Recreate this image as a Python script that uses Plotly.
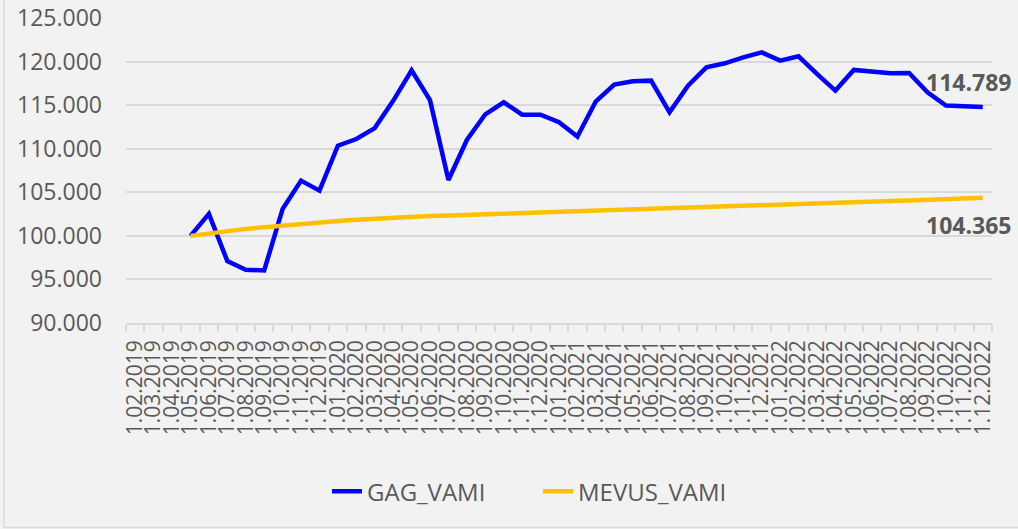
import plotly.graph_objects as go

months = ["02","03","04","05","06","07","08","09","10","11","12"]
categories = [f"1.{m}.2019" for m in months] + \
    [f"1.{m:02d}.{y}" for y in (2020, 2021, 2022) for m in range(1, 13)]

gag_vami = [None, None, None,
    100.0, 102.52, 97.1, 96.11, 96.03, 103.09, 106.34, 105.19, 110.34, 111.11, 112.37,
    115.5, 119.0, 115.57, 106.41, 111.0, 113.95, 115.33, 113.91, 113.91, 113.04, 111.39,
    115.44, 117.35, 117.74, 117.81, 114.18, 117.24, 119.34, 119.8, 120.49, 121.06,
    120.11, 120.6, 118.58, 116.67, 119.04, 118.88, 118.65, 118.69, 116.48, 114.95,
    114.87, 114.789]

mevus_vami = [None, None, None,
    100.0, 100.3, 100.55, 100.8, 101.0, 101.2, 101.4, 101.55, 101.7, 101.85, 101.98,
    102.08, 102.18, 102.27, 102.35, 102.42, 102.48, 102.62, 102.68, 102.73, 102.79,
    102.87, 102.95, 103.03, 103.1, 103.17, 103.24, 103.32, 103.4, 103.48, 103.55,
    103.62, 103.68, 103.74, 103.8, 103.85, 103.9, 103.95, 104.0, 104.05, 104.12,
    104.2, 104.28, 104.365]

y_ticks = [90, 95, 100, 105, 110, 115, 120, 125]
y_tick_labels = [f"{v:.3f}" for v in y_ticks]

grey_text = "#595959"
font_family = "Open Sans"

fig = go.Figure()
fig.add_trace(go.Scatter(x=categories, y=gag_vami, mode="lines", name="GAG_VAMI",
                         line=dict(color="#0000ff", width=4.5), connectgaps=False))
fig.add_trace(go.Scatter(x=categories, y=mevus_vami, mode="lines", name="MEVUS_VAMI",
                         line=dict(color="#ffc000", width=4.5), connectgaps=False))

fig.add_annotation(x=categories[-1], y=gag_vami[-1], xref="x", yref="y",
                   text=f"<b>{gag_vami[-1]:.3f}</b>", showarrow=False,
                   xshift=-14, yshift=25, font=dict(size=23, color=grey_text, family=font_family))
fig.add_annotation(x=categories[-1], y=mevus_vami[-1], xref="x", yref="y",
                   text=f"<b>{mevus_vami[-1]:.3f}</b>", showarrow=False,
                   xshift=-14, yshift=-27, font=dict(size=23, color=grey_text, family=font_family))

# outer chart border (left and bottom visible)
fig.add_shape(type="line", xref="paper", yref="paper",
              x0=(4 - 126) / 866, x1=(4 - 126) / 866, y0=(323 - 527.5) / 305, y1=1.2,
              line=dict(color="#d9d9d9", width=1.5))
fig.add_shape(type="line", xref="paper", yref="paper",
              x0=(4 - 126) / 866, x1=1.1, y0=(323 - 527.5) / 305, y1=(323 - 527.5) / 305,
              line=dict(color="#d9d9d9", width=1.5))

fig.update_layout(
    width=1018, height=529,
    margin=dict(l=126, r=26, t=18, b=206, autoexpand=False),
    paper_bgcolor="#f2f2f2", plot_bgcolor="#f2f2f2",
    font=dict(family=font_family, color=grey_text),
    showlegend=True,
    legend=dict(orientation="h", x=(327 - 126) / 866, xanchor="left", y=-0.553, yanchor="middle",
                font=dict(size=24, color=grey_text, family=font_family),
                bgcolor="rgba(0,0,0,0)", entrywidth=166),
    xaxis=dict(type="category", categoryorder="array", categoryarray=categories,
               tickmode="array", tickvals=categories, ticktext=categories,
               tickangle=-90, tickfont=dict(size=21, color=grey_text, family=font_family),
               showgrid=False, showline=True, linecolor="#d9d9d9", linewidth=1.5,
               ticks="outside", tickson="boundaries", ticklen=7, tickcolor="#d9d9d9",
               tickwidth=1.5, zeroline=False, automargin=False, ticklabelstandoff=7,
               range=[-0.5, len(categories) - 0.5]),
    yaxis=dict(range=[90, 125], tickmode="array", tickvals=y_ticks, ticktext=y_tick_labels,
               tickfont=dict(size=23, color=grey_text, family=font_family),
               showgrid=True, gridcolor="#d9d9d9", gridwidth=1.5, zeroline=False,
               showline=False, ticks="", ticklabelstandoff=23, automargin=False),
)

fig.write_html("out.html", config={"displayModeBar": False},
               post_script="document.body.style.margin='0';document.body.style.overflow='hidden';")
